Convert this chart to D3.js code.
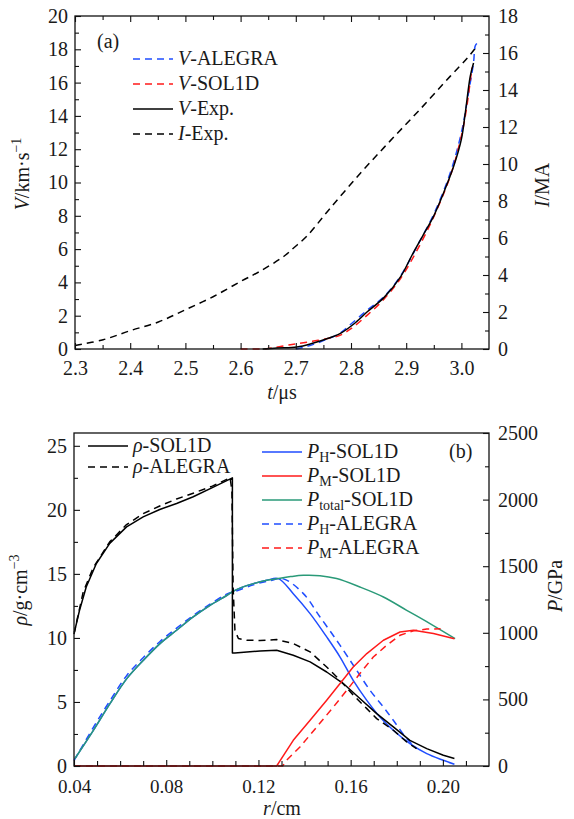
<!DOCTYPE html>
<html>
<head>
<meta charset="utf-8">
<script src="https://cdn.jsdelivr.net/npm/d3@7/dist/d3.min.js"></script>
<style>
  html, body { margin: 0; padding: 0; background: #fff; }
  svg text { font-family: "Liberation Serif", "Times New Roman", serif; fill: #1a1a1a; }
</style>
</head>
<body>
<svg id="fig" width="574" height="819"></svg>
<script>
// ---------- Panel (a): velocity and current versus time ----------
const vAlegraT = [2.70, 2.72, 2.75, 2.78, 2.80, 2.83, 2.86, 2.89, 2.92, 2.95, 2.98, 3.00, 3.015, 3.022, 3.025, 3.028];
const vAlegraV = [0.0, 0.15, 0.5, 0.95, 1.5, 2.35, 3.15, 4.4, 6.2, 8.1, 10.6, 13.0, 15.8, 17.2, 18.2, 18.35];

const vSol1dT = [2.60, 2.65, 2.68, 2.70, 2.73, 2.76, 2.78, 2.80, 2.83, 2.86, 2.89, 2.92, 2.95, 2.98, 3.00, 3.01, 3.019];
const vSol1dV = [0.0, 0.03, 0.2, 0.3, 0.46, 0.65, 0.82, 1.22, 2.05, 3.0, 4.25, 5.95, 7.95, 10.4, 12.8, 14.6, 16.9];

const vExpT = [2.64, 2.666, 2.702, 2.732, 2.755, 2.78, 2.805, 2.83, 2.86, 2.89, 2.91, 2.93, 2.95, 2.968, 2.986, 3.0, 3.007, 3.016, 3.022];
const vExpV = [0.0, 0.06, 0.12, 0.36, 0.6, 0.92, 1.5, 2.25, 3.1, 4.35, 5.6, 6.8, 8.0, 9.4, 10.97, 12.6, 14.17, 16.37, 17.18];

const iExpT = [2.30, 2.351, 2.40, 2.451, 2.50, 2.551, 2.60, 2.635, 2.678, 2.696, 2.72, 2.762, 2.817, 2.871, 2.925, 2.98, 3.01, 3.025];
const iExpI = [0.19, 0.50, 0.99, 1.46, 2.12, 2.84, 3.65, 4.2, 5.0, 5.46, 6.1, 7.6, 9.5, 11.25, 12.95, 14.75, 15.7, 16.25];

const tTicks = [2.3, 2.4, 2.5, 2.6, 2.7, 2.8, 2.9, 3.0];
const vTicks = [0, 2, 4, 6, 8, 10, 12, 14, 16, 18, 20];
const iTicks = [0, 2, 4, 6, 8, 10, 12, 14, 16, 18];

// ---------- Panel (b): density and pressure profiles versus radius ----------
const rhoSolR = [0.0402, 0.0424, 0.0453, 0.0497, 0.0555, 0.0628, 0.070, 0.0772, 0.0845, 0.0917, 0.100, 0.1087, 0.1087, 0.1098, 0.115, 0.1207, 0.1279, 0.1351, 0.1424, 0.1496, 0.1568, 0.164, 0.1713, 0.1785, 0.1857, 0.193, 0.2002, 0.205];
const rhoSolV = [10.47, 12.16, 13.98, 15.81, 17.38, 18.67, 19.45, 20.03, 20.5, 21.02, 21.74, 22.5, 8.83, 8.83, 8.9, 8.98, 9.04, 8.65, 8.13, 7.34, 6.44, 5.27, 4.09, 3.05, 2.0, 1.36, 0.84, 0.58];

const rhoAleR = [0.0400, 0.0412, 0.044, 0.0484, 0.0555, 0.0628, 0.070, 0.0772, 0.0845, 0.0917, 0.100, 0.1077, 0.1085, 0.1090, 0.1098, 0.1113, 0.1149, 0.1207, 0.1279, 0.1351, 0.1424, 0.1496, 0.1554, 0.1612, 0.167, 0.1713, 0.1785, 0.1843, 0.1886];
const rhoAleV = [10.3, 11.3, 13.6, 15.5, 17.5, 18.85, 19.7, 20.3, 20.85, 21.3, 21.85, 22.5, 21.5, 14.0, 10.6, 9.95, 9.82, 9.8, 9.87, 9.56, 8.91, 7.73, 6.7, 5.52, 4.48, 3.7, 2.79, 1.88, 1.36];

const pTotR = [0.0404, 0.0484, 0.0556, 0.0629, 0.0701, 0.0773, 0.0845, 0.0917, 0.099, 0.1062, 0.1098, 0.1178, 0.1236, 0.1286, 0.1340, 0.1395, 0.1467, 0.1539, 0.164, 0.1742, 0.1843, 0.1944, 0.2053];
const pTotP = [56, 268, 468, 656, 794, 919, 1019, 1119, 1206, 1280, 1319, 1369, 1394, 1407, 1422, 1432, 1429, 1407, 1344, 1269, 1169, 1069, 956];

const pHSolR = [0.0404, 0.0484, 0.0556, 0.0629, 0.0701, 0.0773, 0.0845, 0.0917, 0.099, 0.1062, 0.1098, 0.1178, 0.1236, 0.1286, 0.1351, 0.1424, 0.1496, 0.1554, 0.1611, 0.167, 0.1727, 0.1785, 0.1857, 0.193, 0.2002, 0.205];
const pHSolP = [56, 268, 468, 656, 794, 919, 1019, 1119, 1206, 1280, 1319, 1369, 1394, 1407, 1294, 1144, 969, 818, 643, 493, 368, 268, 168, 93, 43, 13];

const pMSolR = [0.040, 0.1279, 0.1351, 0.1424, 0.1496, 0.1554, 0.1611, 0.167, 0.1742, 0.1814, 0.1872, 0.1959, 0.205];
const pMSolP = [0, 0, 193, 343, 493, 619, 743, 844, 944, 1006, 1019, 994, 956];

const pHAleR = [0.0400, 0.0484, 0.0556, 0.0629, 0.0701, 0.0773, 0.0845, 0.0917, 0.099, 0.1062, 0.1098, 0.1178, 0.1250, 0.1308, 0.1395, 0.1467, 0.1539, 0.1597, 0.1626, 0.1684, 0.1742, 0.1785, 0.1843, 0.1886];
const pHAleP = [40, 290, 490, 680, 815, 935, 1035, 1130, 1215, 1290, 1310, 1360, 1392, 1405, 1294, 1119, 944, 794, 719, 568, 443, 343, 206, 131];

const pMAleR = [0.040, 0.1305, 0.1322, 0.138, 0.1453, 0.1525, 0.1583, 0.164, 0.1698, 0.1756, 0.1814, 0.1872, 0.193, 0.199];
const pMAleP = [0, 0, 43, 143, 293, 443, 568, 694, 818, 906, 981, 1015, 1028, 1030];

const rTicks = [0.04, 0.08, 0.12, 0.16, 0.20];
const rhoTicks = [0, 5, 10, 15, 20, 25];
const pTicks = [0, 500, 1000, 1500, 2000, 2500];

// ---------- Styles ----------
const BLUE = "#1f4dff", RED = "#ff1a1a", GREEN = "#2a9a78", BLACK = "#000";
const DASH = "7,5";
const FS = 20;
const svg = d3.select("#fig");

const zip = (xs, ys) => xs.map((x, i) => [x, ys[i]]);

function drawAxes(g, opts) {
  const { x, yL, yR, xTicks, xMinor, xMinorLen, xPad, xFs, yLTicks, yLMinor, yRTicks, yRMinor, xFmt, yLFmt, yRFmt, topTicks } = opts;
  const [x0, x1] = x.range();
  const [y0, y1] = yL.range(); // y0 bottom, y1 top
  // bottom
  g.append("g").attr("transform", `translate(0,${y0})`)
    .call(d3.axisBottom(x).tickValues(xMinor).tickSize(-xMinorLen).tickFormat(""));
  const xb = g.append("g").attr("class", "xb").attr("transform", `translate(0,${y0})`)
    .call(d3.axisBottom(x).tickValues(xTicks).tickSize(-6).tickPadding(xPad).tickFormat(xFmt));
  if (topTicks) {
    g.append("g").attr("transform", `translate(0,${y1})`)
      .call(d3.axisTop(x).tickValues(xMinor).tickSize(-xMinorLen).tickFormat(""));
    g.append("g").attr("transform", `translate(0,${y1})`)
      .call(d3.axisTop(x).tickValues(xTicks).tickSize(-6).tickFormat(""));
  }
  // left
  g.append("g").attr("transform", `translate(${x0},0)`)
    .call(d3.axisLeft(yL).tickValues(yLMinor).tickSize(-4).tickFormat(""));
  g.append("g").attr("transform", `translate(${x0},0)`)
    .call(d3.axisLeft(yL).tickValues(yLTicks).tickSize(-6).tickPadding(7).tickFormat(yLFmt));
  // right
  g.append("g").attr("transform", `translate(${x1},0)`)
    .call(d3.axisRight(yR).tickValues(yRMinor).tickSize(-4).tickFormat(""));
  g.append("g").attr("transform", `translate(${x1},0)`)
    .call(d3.axisRight(yR).tickValues(yRTicks).tickSize(-6).tickPadding(9).tickFormat(yRFmt));
  g.selectAll(".domain").remove();
  g.selectAll(".tick line").attr("stroke", "#111").attr("stroke-width", 1.1);
  g.selectAll(".tick text").attr("fill", "#1a1a1a")
    .attr("font-family", "Liberation Serif, serif").attr("font-size", FS);
  xb.selectAll(".tick text").attr("font-size", xFs);
  // frame
  g.append("rect").attr("x", x0).attr("y", y1).attr("width", x1 - x0).attr("height", y0 - y1)
    .attr("fill", "none").attr("stroke", "#111").attr("stroke-width", 1.3);
}

function curve(g, pts, color, dashed, smooth) {
  const line = d3.line().x(d => d[0]).y(d => d[1]);
  if (smooth) line.curve(d3.curveCatmullRom.alpha(0.5));
  g.append("path").attr("d", line(pts)).attr("fill", "none")
    .attr("stroke", color).attr("stroke-width", 1.5)
    .attr("stroke-dasharray", dashed ? DASH : null)
    .attr("stroke-linejoin", "round");
}

function legendRow(g, x, y, color, dashed, build) {
  g.append("line").attr("x1", x).attr("x2", x + 40).attr("y1", y).attr("y2", y)
    .attr("stroke", color).attr("stroke-width", 1.5).attr("stroke-dasharray", dashed ? DASH : null);
  const t = g.append("text").attr("x", x + 45).attr("y", y + 6).attr("font-size", FS);
  build(t);
}
const ital = (t, s) => t.append("tspan").attr("font-style", "italic").text(s);
const rom = (t, s) => t.append("tspan").text(s);
const sub = (t, s) => t.append("tspan").attr("font-size", 14).attr("dy", 4).text(s);
const after = (t, s) => t.append("tspan").attr("dy", -4).text(s);

// ===== Panel (a) =====
{
  const g = svg.append("g");
  const x = d3.scaleLinear([2.3, 3.05], [75, 489]);
  const yV = d3.scaleLinear([0, 20], [349, 16]);
  const yI = d3.scaleLinear([0, 18], [349, 16]);

  curve(g, zip(iExpT, iExpI).map(d => [x(d[0]), yI(d[1])]), BLACK, true, true);
  curve(g, zip(vAlegraT, vAlegraV).map(d => [x(d[0]), yV(d[1])]), BLUE, true, true);
  curve(g, zip(vSol1dT, vSol1dV).map(d => [x(d[0]), yV(d[1])]), RED, true, true);
  curve(g, zip(vExpT, vExpV).map(d => [x(d[0]), yV(d[1])]), BLACK, false, true);

  drawAxes(g, {
    x, yL: yV, yR: yI, topTicks: true,
    xTicks: tTicks, xMinor: d3.range(2.35, 3.05, 0.1), xMinorLen: 4, xPad: 12, xFs: FS,
    yLTicks: vTicks, yLMinor: d3.range(1, 20, 2),
    yRTicks: iTicks, yRMinor: d3.range(1, 18, 2),
    xFmt: d3.format(".1f"), yLFmt: d3.format("d"), yRFmt: d3.format("d")
  });

  g.append("text").attr("x", 97).attr("y", 48).attr("font-size", FS).text("(a)");
  const lg = g.append("g");
  legendRow(lg, 133, 59, BLUE, true, t => { ital(t, "V"); rom(t, "-ALEGRA"); });
  legendRow(lg, 133, 84, RED, true, t => { ital(t, "V"); rom(t, "-SOL1D"); });
  legendRow(lg, 133, 109, BLACK, false, t => { ital(t, "V"); rom(t, "-Exp."); });
  legendRow(lg, 133, 134, BLACK, true, t => { ital(t, "I"); rom(t, "-Exp."); });

  // axis titles
  const xt = g.append("text").attr("x", 282).attr("y", 399).attr("text-anchor", "middle").attr("font-size", FS);
  ital(xt, "t"); rom(xt, "/μs");
  const ylt = g.append("text").attr("transform", "translate(29,174) rotate(-90)").attr("text-anchor", "middle").attr("font-size", FS);
  ital(ylt, "V"); rom(ylt, "/km·s"); ylt.append("tspan").attr("font-size", 14).attr("dy", -8).text("−1");
  const yrt = g.append("text").attr("transform", "translate(549,185) rotate(-90)").attr("text-anchor", "middle").attr("font-size", FS);
  ital(yrt, "I"); rom(yrt, "/MA");
}

// ===== Panel (b) =====
{
  const g = svg.append("g");
  const x = d3.scaleLinear([0.04, 0.22], [74, 489]);
  const yRho = d3.scaleLinear([0, 26], [766, 433]);
  const yP = d3.scaleLinear([0, 2500], [766, 433]);

  const P = (rs, ps) => zip(rs, ps).map(d => [x(d[0]), yP(d[1])]);
  const R = (rs, vs) => zip(rs, vs).map(d => [x(d[0]), yRho(d[1])]);

  curve(g, P(pHSolR, pHSolP), BLUE, false, true);
  curve(g, P(pHAleR, pHAleP), BLUE, true, true);
  curve(g, P(pTotR, pTotP), GREEN, false, true);
  curve(g, R(rhoAleR, rhoAleV), BLACK, true, false);
  curve(g, R(rhoSolR, rhoSolV), BLACK, false, false);
  curve(g, P(pMAleR, pMAleP), RED, true, false);
  curve(g, P(pMSolR, pMSolP), RED, false, false);

  drawAxes(g, {
    x, yL: yRho, yR: yP, topTicks: false,
    xTicks: rTicks, xMinor: d3.range(0.05, 0.22, 0.01).filter(v => Math.round(v * 100) % 4 !== 0), xMinorLen: 5,
    xPad: 14, xFs: 19,
    yLTicks: rhoTicks, yLMinor: [2.5, 7.5, 12.5, 17.5, 22.5],
    yRTicks: pTicks, yRMinor: [250, 750, 1250, 1750, 2250],
    xFmt: d3.format(".2f"), yLFmt: d3.format("d"), yRFmt: d3.format("d")
  });

  g.append("text").attr("x", 449).attr("y", 458).attr("font-size", FS).text("(b)");

  const lg = g.append("g");
  legendRow(lg, 88, 446, BLACK, false, t => { ital(t, "ρ"); rom(t, "-SOL1D"); });
  legendRow(lg, 88, 467, BLACK, true, t => { ital(t, "ρ"); rom(t, "-ALEGRA"); });

  legendRow(lg, 262, 452, BLUE, false, t => { ital(t, "P"); sub(t, "H"); after(t, "-SOL1D"); });
  legendRow(lg, 262, 476, RED, false, t => { ital(t, "P"); sub(t, "M"); after(t, "-SOL1D"); });
  legendRow(lg, 262, 500, GREEN, false, t => { ital(t, "P"); sub(t, "total"); after(t, "-SOL1D"); });
  legendRow(lg, 262, 524, BLUE, true, t => { ital(t, "P"); sub(t, "H"); after(t, "-ALEGRA"); });
  legendRow(lg, 262, 548, RED, true, t => { ital(t, "P"); sub(t, "M"); after(t, "-ALEGRA"); });

  const xt = g.append("text").attr("x", 282).attr("y", 815).attr("text-anchor", "middle").attr("font-size", FS);
  ital(xt, "r"); rom(xt, "/cm");
  const ylt = g.append("text").attr("transform", "translate(27,590) rotate(-90)").attr("text-anchor", "middle").attr("font-size", FS);
  ital(ylt, "ρ"); rom(ylt, "/g·cm"); ylt.append("tspan").attr("font-size", 14).attr("dy", -8).text("−3");
  const yrt = g.append("text").attr("transform", "translate(562,586) rotate(-90)").attr("text-anchor", "middle").attr("font-size", FS);
  ital(yrt, "P"); rom(yrt, "/GPa");
}
</script>
</body>
</html>
